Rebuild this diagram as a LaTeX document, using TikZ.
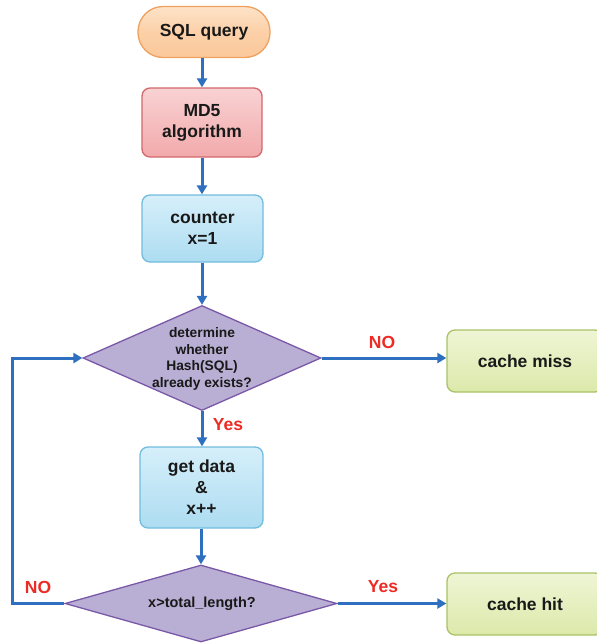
\documentclass[tikz,border=0pt]{standalone}
\usepackage{fontspec}
\setmainfont{Liberation Sans}
\usetikzlibrary{shapes.geometric,arrows.meta,positioning}

\definecolor{flowblue}{HTML}{2E6FBF}
\definecolor{labelred}{HTML}{EE2A24}
\definecolor{orangefill}{HTML}{FBC89A}
\definecolor{orangetop}{HTML}{FDE3C8}
\definecolor{orangeline}{HTML}{EFA160}
\definecolor{pinkfill}{HTML}{F2A9AB}
\definecolor{pinktop}{HTML}{F9D2D3}
\definecolor{pinkline}{HTML}{D2686B}
\definecolor{bluefill}{HTML}{ADDCF1}
\definecolor{bluetop}{HTML}{D6EFFA}
\definecolor{blueline}{HTML}{72BCDD}
\definecolor{lavfill}{HTML}{B9AED3}
\definecolor{lavline}{HTML}{7A58A8}
\definecolor{greenfill}{HTML}{DCE9AA}
\definecolor{greentop}{HTML}{EFF5D5}
\definecolor{greenline}{HTML}{A9C366}

\tikzset{
  boxbase/.style={rectangle, rounded corners=8pt, line width=1.3pt, inner sep=0pt,
    align=center, font=\bfseries\fontsize{17.5}{21}\selectfont, text=black!90},
  startbox/.style={boxbase, rounded corners=25pt, draw=orangeline,
    top color=orangetop, bottom color=orangefill, middle color=orangefill!70!orangetop},
  hashbox/.style={boxbase, draw=pinkline, top color=pinktop, bottom color=pinkfill},
  procbox/.style={boxbase, draw=blueline, top color=bluetop, bottom color=bluefill},
  endbox/.style={boxbase, draw=greenline, top color=greentop, bottom color=greenfill},
  decision/.style={diamond, draw=lavline, fill=lavfill, line width=1.3pt, inner sep=0pt},
  decisiontext/.style={align=center, inner sep=0pt, text=black!90},
  flow/.style={draw=flowblue, line width=3pt,
    -{Triangle[length=9pt,width=10pt]}},
  answer/.style={text=labelred, font=\bfseries\fontsize{17.5}{21}\selectfont, inner sep=0pt},
}

\begin{document}
\begin{tikzpicture}[x=1pt, y=-1pt]
  \useasboundingbox[fill=white] (0,0) rectangle (597,643);

  % main column
  \node[startbox, minimum width=132pt, minimum height=51pt] (sql) at (204,32) {SQL query};
  \node[hashbox, minimum width=120pt, minimum height=69pt] (md5) at (202,122.5) {MD5\\algorithm};
  \node[procbox, minimum width=121pt, minimum height=67pt] (counter) at (202.5,228.5) {counter\\x=1};
  \node[decision, minimum width=238pt, minimum height=105pt] (exists) at (202,358) {};
  \node[decisiontext, font=\bfseries\fontsize{13.8}{16.5}\selectfont] (existstext) at (202,359)
    {determine\\whether\\Hash(SQL)\\already exists?};
  \node[procbox, minimum width=123pt, minimum height=81pt] (getdata) at (201.5,487.5)
    {get data\\\&\\x++};
  \node[decision, minimum width=272pt, minimum height=77pt] (length) at (201,603.5) {};
  \node[decisiontext, font=\bfseries\fontsize{14.5}{17}\selectfont] (lengthtext) at (202,604)
    {x>total\_length?};

  % outcomes on the right
  \node[endbox, minimum width=156pt, minimum height=62pt] (miss) at (525,361) {cache miss};
  \node[endbox, minimum width=156pt, minimum height=62pt] (hit) at (525,604) {cache hit};

  % loop-back corner
  \coordinate (loopbottom) at (12,603.5);
  \coordinate (looptop) at (12,358);

  % connectors
  \draw[flow] (sql.south -| md5.north) -- (md5.north);
  \draw[flow] (md5.south) -- (md5.south |- counter.north);
  \draw[flow] (counter.south -| exists.north) -- (exists.north);
  \draw[flow] (exists.south) -- (exists.south |- getdata.north);
  \draw[flow] (getdata.south -| length.north) -- (length.north);
  \draw[flow] (exists.east) -- (miss.west |- exists.east);
  \draw[flow] (length.east) -- (hit.west |- length.east);
  \draw[flow] (length.west) -- (loopbottom) -- (looptop) -- (exists.west);

  % branch labels
  \node[answer] (yes1) at (228,425) {Yes};
  \node[answer] (no1) at (382,342) {NO};
  \node[answer] (yes2) at (383,587) {Yes};
  \node[answer] (no2) at (38,587) {NO};
\end{tikzpicture}
\end{document}
